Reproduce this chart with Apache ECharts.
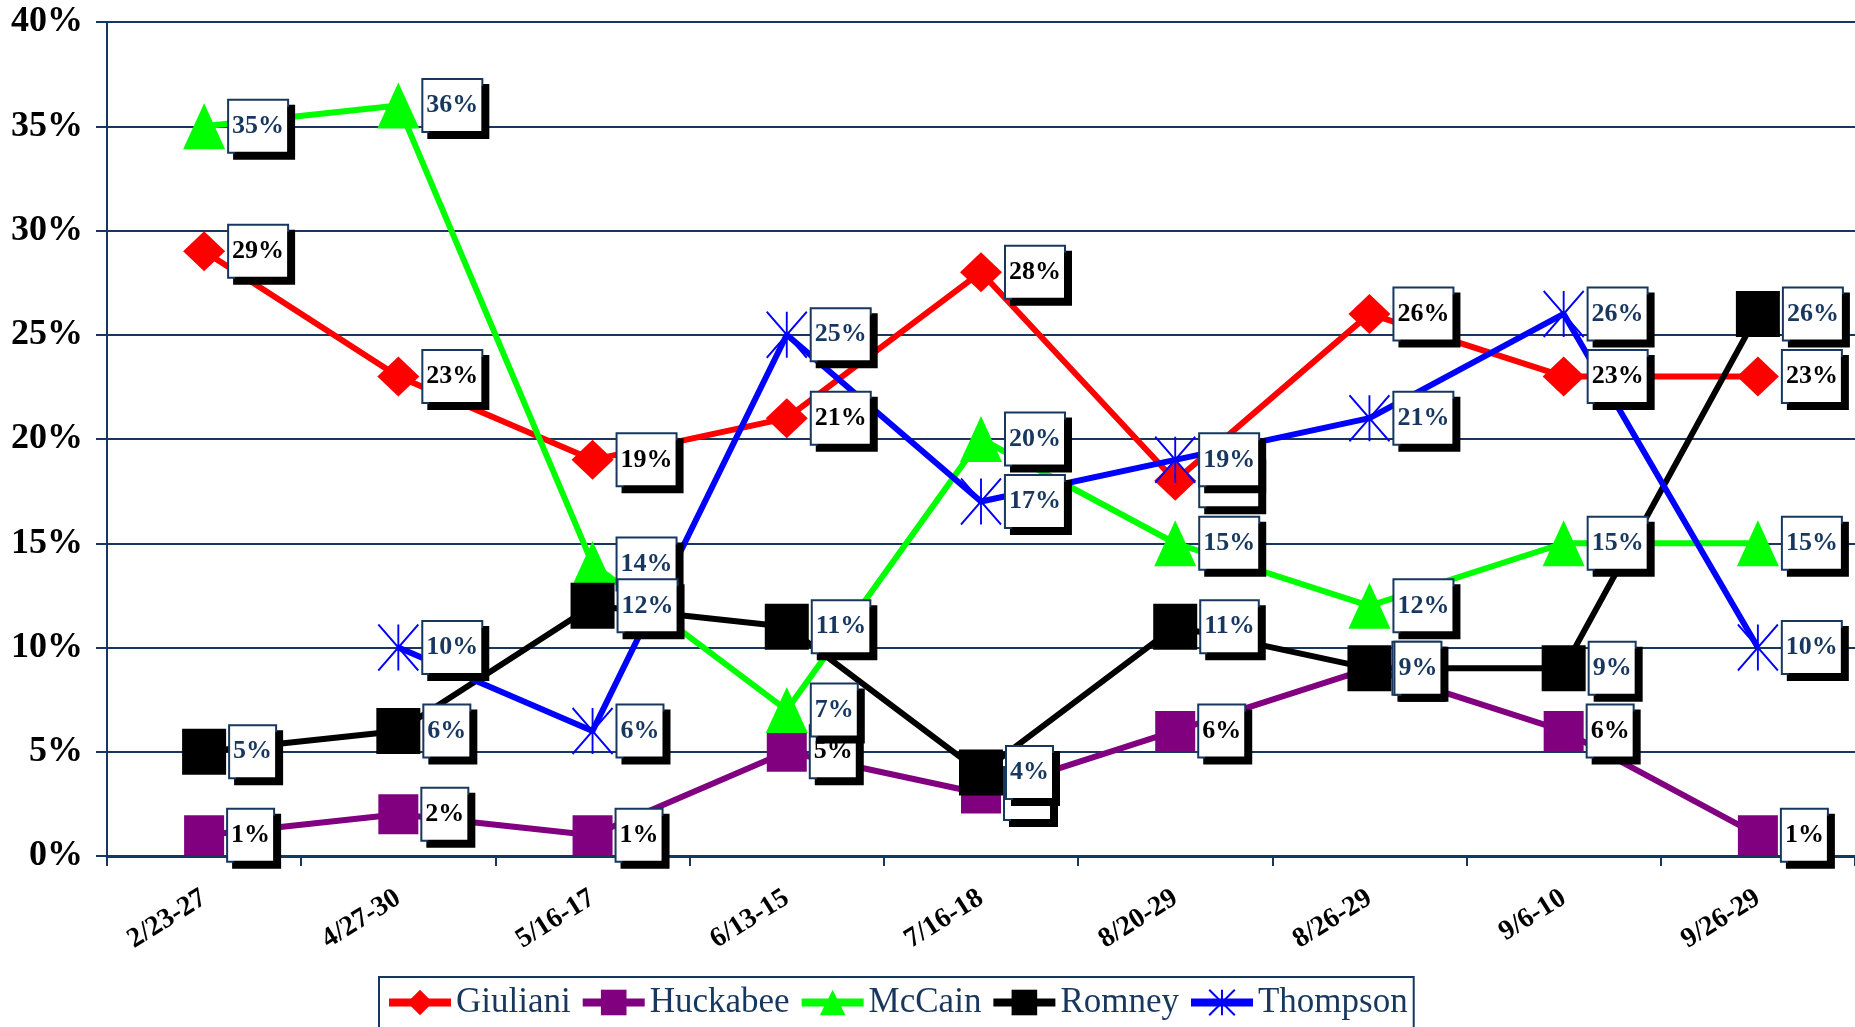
<!DOCTYPE html>
<html lang="en">

<head>
  <meta charset="UTF-8">
  <title>Poll trend</title>
  <style>
    html, body { margin: 0; padding: 0; background: #fff; }
    #main { width: 1855px; height: 1027px; }
  </style>
</head>

<body>
  <div id="main"></div>
</body>
<script src="https://cdn.jsdelivr.net/npm/echarts@6/dist/echarts.min.js"></script>
<script>
  // poll dates (x axis)
  var dates = ['2/23-27', '4/27-30', '5/16-17', '6/13-15', '7/16-18', '8/20-29', '8/26-29', '9/6-10', '9/26-29'];

  // values in percent
  var giuliani = [29, 23, 19, 21, 28, 18, 26, 23, 23];
  var huckabee = [1, 2, 1, 5, 3, 6, 9, 6, 1];
  var mccain = [35, 36, 14, 7, 20, 15, 12, 15, 15];
  var romney = [5, 6, 12, 11, 4, 11, 9, 9, 26];
  var thompson = [null, 10, 6, 25, 17, 19, 21, 26, 10];

  var yTicks = [0, 5, 10, 15, 20, 25, 30, 35, 40];

  var navy = '#17375E';
  var serif = "'Liberation Serif', 'Times New Roman', serif";

  var myChart = echarts.init(document.getElementById('main'));

  function makeSeries(name, data, color, symbol, size, textColor, itemStyle) {
    return {
      name: name,
      type: 'line',
      data: data,
      symbol: symbol,
      symbolSize: size,
      lineStyle: { color: color, width: 6 },
      itemStyle: itemStyle || { color: color },
      label: {
        show: true,
        position: 'right',
        distance: 4,
        formatter: '{c}%',
        fontFamily: serif,
        fontSize: 26,
        fontWeight: 'bold',
        color: textColor,
        backgroundColor: '#fff',
        borderColor: navy,
        borderWidth: 2,
        padding: [13, 3, 12, 3],
        shadowColor: '#000',
        shadowBlur: 0,
        shadowOffsetX: 6,
        shadowOffsetY: 6
      },
      emphasis: { disabled: true }
    };
  }

  var option = {
    animation: false,
    grid: {
      left: 107,
      top: 22,
      right: -6,
      bottom: 171
    },
    legend: {
      data: ['Giuliani', 'Huckabee', 'McCain', 'Romney', 'Thompson'],
      left: 379,
      top: 977,
      backgroundColor: '#fff',
      borderColor: navy,
      borderWidth: 2,
      borderRadius: 0,
      padding: [8, 6, 20, 6],
      itemWidth: 62,
      itemHeight: 32,
      itemGap: 8,
      lineStyle: { width: 8 },
      textStyle: { fontFamily: serif, fontSize: 35, color: navy }
    },
    xAxis: {
      type: 'category',
      data: dates,
      boundaryGap: true,
      axisLine: { lineStyle: { color: navy, width: 3 } },
      axisTick: { show: true, length: 10, lineStyle: { color: navy, width: 2 } },
      axisLabel: {
        interval: 0,
        rotate: 32,
        margin: 40,
        fontFamily: serif,
        fontSize: 28,
        fontWeight: 'bold',
        color: '#000'
      }
    },
    yAxis: {
      type: 'value',
      min: yTicks[0],
      max: yTicks[yTicks.length - 1],
      interval: 5,
      axisLine: { show: true, lineStyle: { color: navy, width: 2 } },
      axisTick: { show: true, length: 11, lineStyle: { color: navy, width: 2 } },
      splitLine: { lineStyle: { color: navy, width: 2 } },
      axisLabel: {
        formatter: '{value}%',
        margin: 24,
        fontFamily: serif,
        fontSize: 36,
        fontWeight: 'bold',
        color: '#000'
      }
    },
    series: [
      makeSeries('Giuliani', giuliani, '#FF0000', 'diamond', [42, 40], '#000'),
      makeSeries('Huckabee', huckabee, '#800080', 'rect', [40, 40], '#000'),
      makeSeries('McCain', mccain, '#00FF00', 'triangle', [42, 46], navy),
      makeSeries('Romney', romney, '#000000', 'rect', [44, 46], navy),
      makeSeries('Thompson', thompson, '#0000FF', 'path://M0,0L40,46M40,0L0,46M20,0L20,46', [40, 46], navy,
        { color: 'rgba(0,0,0,0)', borderColor: '#0000FF', borderWidth: 2 })
    ]
  };

  myChart.setOption(option);
</script>

</html>
